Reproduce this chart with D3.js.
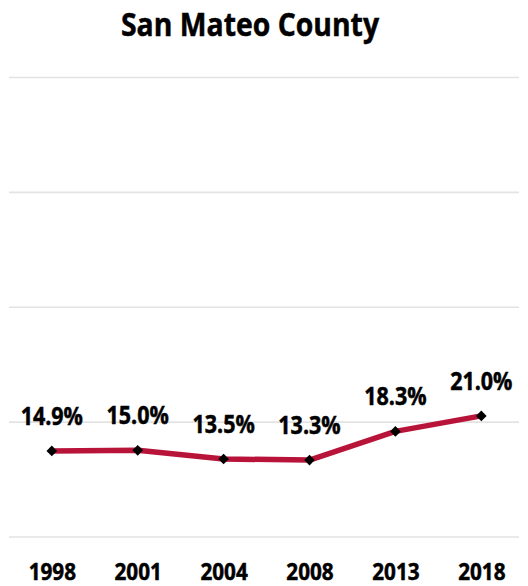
<!DOCTYPE html>
<html>
<head>
<meta charset="utf-8">
<script src="https://cdn.jsdelivr.net/npm/d3@7"></script>
<style>
  html, body { margin: 0; padding: 0; background: #fff; }
  svg { display: block; }
  text { font-family: "Open Sans", "Noto Sans", sans-serif; font-weight: 700; fill: #000; stroke: #000; stroke-width: 0.5px; }
</style>
</head>
<body>
<svg id="chart" width="528" height="586"></svg>
<script>
const title = "San Mateo County";
const years = ["1998", "2001", "2004", "2008", "2013", "2018"];
const values = [14.9, 15.0, 13.5, 13.3, 18.3, 21.0];
const yTicks = [0, 20, 40, 60, 80];

const svg = d3.select("#chart");
const gridLeft = 9, gridRight = 519;

const x = d3.scalePoint().domain(years).range([51.8, 481.3]);
const y = d3.scaleLinear().domain([0, 80]).range([536.5, 77]);

// gridlines
const yAxis = d3.axisLeft(y).tickValues(yTicks).tickSize(-(gridRight - gridLeft)).tickFormat("");
const gy = svg.append("g").attr("transform", `translate(${gridRight},0)`).call(yAxis);
gy.select(".domain").remove();
gy.selectAll(".tick line").attr("stroke", "#e3e3e3").attr("stroke-width", 1.6)
  .attr("x1", 0).attr("x2", -(gridRight - gridLeft));

// x axis labels
const xAxis = d3.axisBottom(x).tickSize(0).tickPadding(0);
const gx = svg.append("g").attr("transform", "translate(0,558)").call(xAxis);
gx.select(".domain").remove();
gx.selectAll(".tick text")
  .attr("font-size", 23)
  .attr("dy", 0)
  .attr("y", 0)
  .style("font-family", '"Open Sans", sans-serif')
  .style("font-weight", 700)
  .attr("fill", "#000")
  .attr("transform", "translate(0,21.5) scale(0.9,1)");

// line
const data = years.map((yr, i) => ({ year: yr, value: values[i] }));
const line = d3.line().x(d => x(d.year)).y(d => y(d.value));
svg.append("path").datum(data)
  .attr("d", line)
  .attr("fill", "none")
  .attr("stroke", "#b8143a")
  .attr("stroke-width", 5.5)
  .attr("stroke-linejoin", "round");

// markers
svg.append("g").selectAll("path").data(data).join("path")
  .attr("d", d3.symbol().type(d3.symbolDiamond2).size(72))
  .attr("transform", d => `translate(${x(d.year)},${y(d.value)})`)
  .attr("fill", "#000");

// value labels
svg.append("g").selectAll("text").data(data).join("text")
  .attr("transform", d => `translate(${x(d.year)},${y(d.value) - 26}) scale(0.86,1)`)
  .attr("text-anchor", "middle")
  .attr("font-size", 25)
  .text(d => d.value.toFixed(1) + "%");

// title
svg.append("text")
  .attr("transform", "translate(250,35.5) scale(0.86,1)")
  .attr("text-anchor", "middle")
  .attr("font-size", 33)
  .text(title);
</script>
</body>
</html>
